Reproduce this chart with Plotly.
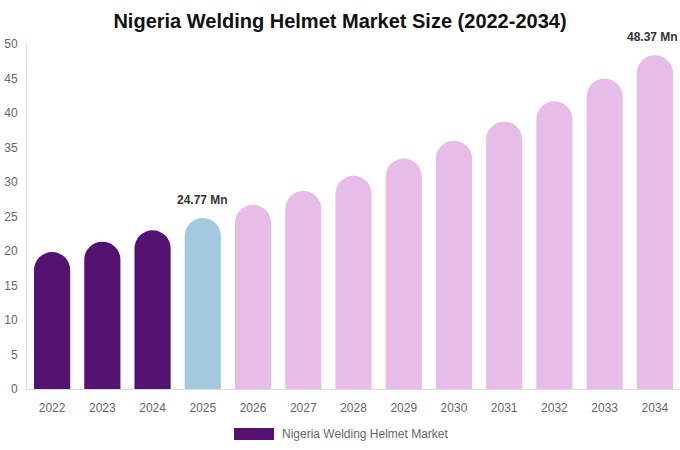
import plotly.graph_objects as go

years = ['2022', '2023', '2024', '2025', '2026', '2027', '2028', '2029',
         '2030', '2031', '2032', '2033', '2034']
values = [19.85, 21.35, 23.0, 24.77, 26.7, 28.7, 30.9, 33.4, 35.98, 38.74, 41.7, 44.97, 48.37]
colors = ['#541270'] * 3 + ['#a3c9de'] + ['#e7bce9'] * 9
labelled = {'2025': '24.77 Mn', '2034': '48.37 Mn'}
legend_name = 'Nigeria Welding Helmet Market'

fig = go.Figure()
fig.add_trace(go.Bar(
    x=years, y=values, width=0.72,
    marker=dict(color=colors, cornerradius='50%', line=dict(width=0)),
    showlegend=False, hoverinfo='x+y'
))

for yr, txt in labelled.items():
    i = years.index(yr)
    # category axis: use the index so '2025' is not read as a number
    fig.add_annotation(x=i, y=values[i], text='<b>' + txt + '</b>',
                       showarrow=False, yanchor='bottom', yshift=9,
                       xshift=-2 if i == len(years) - 1 else 0,
                       font=dict(size=12, color='#333333'))

# legend drawn by hand so the swatch has the wide shape of the original
fig.add_shape(type='rect', xref='paper', yref='paper',
              x0=(234 - 27) / 653, x1=(274 - 27) / 653,
              y0=-(440 - 389) / 345, y1=-(428 - 389) / 345,
              fillcolor='#541270', line=dict(width=0))
fig.add_annotation(xref='paper', yref='paper', x=(280 - 27) / 653, y=-(434 - 389) / 345,
                   text=legend_name, showarrow=False, xanchor='left', yanchor='middle',
                   font=dict(size=12, color='#666666'))

fig.update_layout(
    width=680, height=450,
    title=dict(text='<b>Nigeria Welding Helmet Market Size (2022-2034)</b>',
               x=0.5, xanchor='center', y=1 - 21 / 450, yanchor='middle',
               font=dict(size=20, color='#111111')),
    font=dict(family='Liberation Sans, Arial, sans-serif', size=12, color='#666666'),
    margin=dict(l=27, r=0, t=44, b=61),
    plot_bgcolor='white', paper_bgcolor='white',
    bargap=0.28,
)
fig.update_xaxes(type='category', range=[-0.5, len(years) - 0.5], showline=True,
                 linecolor='#dddddd', linewidth=1, ticklabelstandoff=8, automargin=False,
                 ticks='', showgrid=False, tickfont=dict(size=12, color='#666666'))
fig.update_yaxes(range=[0, 50], dtick=5, showline=True, linecolor='#dddddd', linewidth=1,
                 showgrid=False, zeroline=False, ticks='', ticklabelstandoff=6,
                 automargin=False, tickfont=dict(size=12, color='#666666'))

# drop the default 8px body margin so the figure sits at the page corner
fig.write_html('out.html', config={'displayModeBar': False},
               post_script="document.body.style.margin='0';")
